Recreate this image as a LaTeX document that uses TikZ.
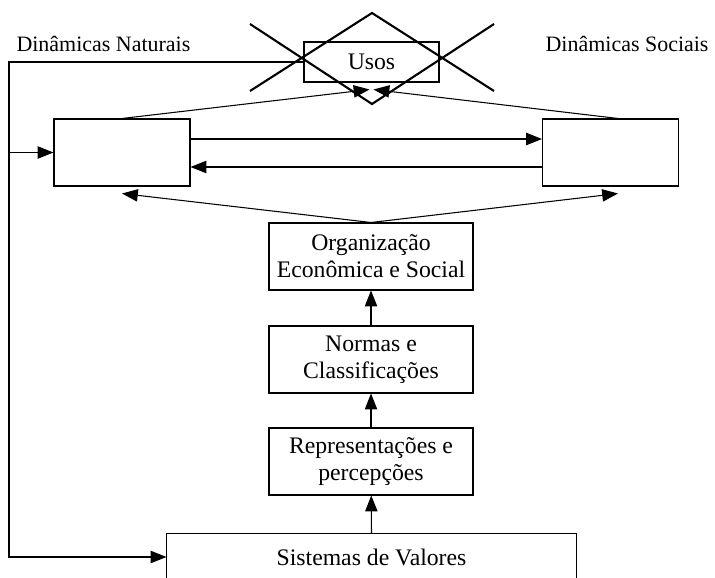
\documentclass[tikz,border=0pt]{standalone}
\usepackage{fontspec}
\setmainfont{Liberation Serif}
\usetikzlibrary{
  arrows.meta,
  calc,
  positioning,
}
\tikzset{
  >={Triangle[length=9pt,width=7pt]},
  caixa/.style={draw, line width=0.6pt, align=center, inner sep=0pt,
    minimum width=2.72cm, minimum height=1.34cm,
    font=\fontsize{13.5}{15.5}\selectfont},
  caixalarga/.style={caixa, minimum width=4.08cm},
  rotulo/.style={inner sep=0pt},
}

\begin{document}
\begin{tikzpicture}[x=0.02cm, y=-0.02cm, line width=0.6pt,
    font=\fontsize{12.5}{15}\selectfont]
  \useasboundingbox (0, 0) rectangle (715, 577);

  \node [rotulo, anchor=base west] (lnat) at (16, 52) {Dinâmicas Naturais};
  \node [rotulo, anchor=base east] (lsoc) at (709, 52) {Dinâmicas Sociais};

  \node [caixa, minimum width=2.7cm, minimum height=0.8cm] (usos) at (371.5, 62) {Usos};
  \node [caixa] (natural) at (122, 152.5) {};
  \node [caixa] (social) at (610.5, 152.5) {};
  \node [caixalarga] (org) at (371, 256.5) {Organização\\Econômica e Social};
  \node [caixalarga] (normas) at (371, 359.5) {Normas e\\Classificações};
  \node [caixalarga] (repr) at (371, 461.5) {Representações e\\percepções};
  \node [rotulo, minimum width=8.18cm, minimum height=0.92cm,
    font=\fontsize{13.5}{15.5}\selectfont] (valores) at (371.5, 557) {Sistemas de Valores};
  \draw (valores.south west) -- (valores.north west) -- (valores.north east) -- (valores.south east);

  % usos riscado
  \draw [line width=1.2pt] (250, 24) -- (372, 104) -- (494, 24)
    (250, 91) -- (372, 13) -- (494, 91);

  \coordinate (canto) at (9, 62);
  \draw [->] (usos.west) -- (canto) |- (valores.west);
  \draw [->] (canto |- natural.west) -- (natural.west);

  \draw [->] ([yshift=0.27cm]natural.east) -- ([yshift=0.27cm]social.west);
  \draw [->] ([yshift=-0.29cm]social.west) -- ([yshift=-0.29cm]natural.east);

  \draw [->] (natural.north) -- ([xshift=-0.04cm, yshift=-0.14cm]usos.south);
  \draw [->] ([xshift=0.15cm]social.north) -- ([xshift=0.04cm, yshift=-0.14cm]usos.south);

  \draw [->] (org.north) -- ([yshift=-0.14cm]natural.south);
  \draw [->] (org.north) -- ([xshift=0.15cm, yshift=-0.14cm]social.south);

  \draw [->] (normas) -- (org);
  \draw [->] (repr) -- (normas);
  \draw [->] (valores.north) -- (repr);
\end{tikzpicture}
\end{document}
